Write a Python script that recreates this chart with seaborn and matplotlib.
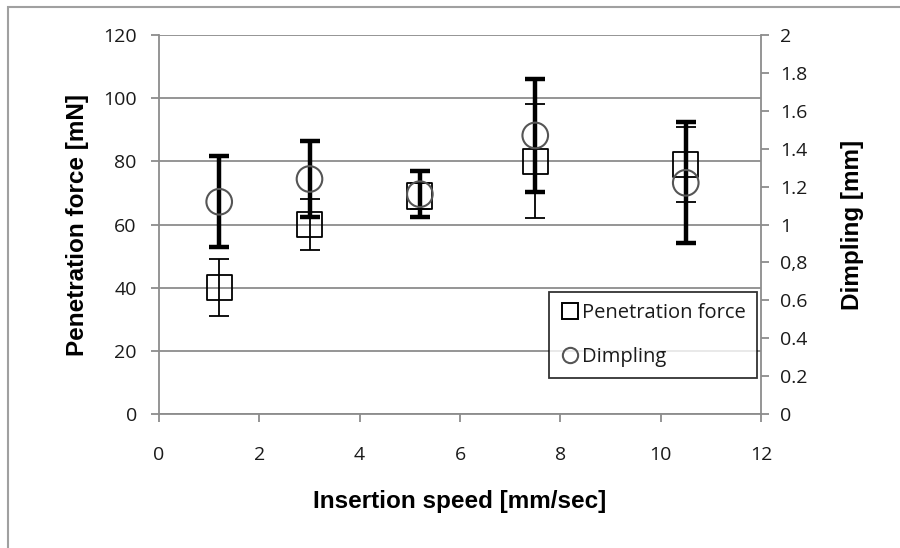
import matplotlib
matplotlib.use("Agg")
import matplotlib.pyplot as plt
from matplotlib.patches import Rectangle
from matplotlib.lines import Line2D
import seaborn as sns
import pandas as pd

# values
speed = [1.2, 3.0, 5.2, 7.5, 10.5]
force = [40, 60, 69, 80, 79]
force_err = [9, 8, 4, 18, 12]
dimpling = [1.12, 1.24, 1.16, 1.47, 1.22]
dimpling_err = [0.24, 0.20, 0.12, 0.30, 0.32]

x_ticks = [0, 2, 4, 6, 8, 10, 12]
force_ticks = [0, 20, 40, 60, 80, 100, 120]
dimp_ticks = [0, 0.2, 0.4, 0.6, 0.8, 1, 1.2, 1.4, 1.6, 1.8, 2]
dimp_labels = ["0", "0.2", "0.4", "0.6", "0,8", "1", "1.2", "1.4", "1.6", "1.8", "2"]

df = pd.DataFrame({"speed": speed, "force": force, "force_err": force_err,
                   "dimpling": dimpling, "dimpling_err": dimpling_err})

sns.set_style("white")
plt.rcParams["font.family"] = ["Open Sans", "DejaVu Sans"]

grey = "#8c8c8c"
txt = "#1a1a1a"
fig = plt.figure(figsize=(9, 5.48), dpi=100)
ax = fig.add_axes([159 / 900, 1 - 414 / 548, (761 - 159) / 900, (414 - 35) / 548])
ax2 = ax.twinx()

# penetration force: squares with thin error bars
ax.errorbar(df["speed"], df["force"], yerr=df["force_err"], fmt="none",
            ecolor="black", elinewidth=1.3, capsize=7, capthick=1.3, zorder=3)
sns.scatterplot(data=df, x="speed", y="force", marker="s", s=330,
                facecolor="none", edgecolor="black", linewidth=1.3, ax=ax, zorder=4)

# dimpling: circles with thick error bars
ax2.errorbar(df["speed"], df["dimpling"], yerr=df["dimpling_err"], fmt="none",
             ecolor="black", elinewidth=3.2, capsize=7, capthick=3.2, zorder=3)
sns.scatterplot(data=df, x="speed", y="dimpling", marker="o", s=340,
                facecolor="none", edgecolor="#555555", linewidth=1.5, ax=ax2, zorder=4)

ax.set_xlim(0, 12)
ax.set_ylim(0, 120)
ax2.set_ylim(0, 2)
ax.set_xticks(x_ticks)
ax.set_yticks(force_ticks)
ax2.set_yticks(dimp_ticks)
ax2.set_yticklabels(dimp_labels)

ax.grid(axis="y", color=grey, linewidth=1.3)
ax.set_axisbelow(True)
for a in (ax, ax2):
    for side in ("top", "left", "right", "bottom"):
        a.spines[side].set_visible(False)
ax.spines["left"].set_visible(True)
ax.spines["bottom"].set_visible(True)
ax2.spines["right"].set_visible(True)
for sp in (ax.spines["left"], ax.spines["bottom"], ax2.spines["right"]):
    sp.set_color(grey)
    sp.set_linewidth(1.3)

ax.tick_params(axis="y", direction="out", length=6, width=1.3, color=grey,
               left=True, labelsize=14, pad=10, labelcolor=txt)
ax.tick_params(axis="x", direction="out", length=6, width=1.3, color=grey,
               bottom=True, labelsize=14, pad=17, labelcolor=txt)
ax2.tick_params(axis="y", direction="out", length=6, width=1.3, color=grey,
                right=True, labelsize=14, pad=8, labelcolor=txt)

lab = dict(fontsize=17.5, fontweight="bold", family="Liberation Sans", color="black")
ax.set_xlabel("Insertion speed [mm/sec]", labelpad=19, **lab)
ax.set_ylabel("Penetration force [mN]", labelpad=10, **lab)
ax2.set_ylabel("Dimpling [mm]", labelpad=24, **lab)

handles = [
    Line2D([], [], marker="s", linestyle="none", markersize=11, markerfacecolor="none",
           markeredgecolor="black", markeredgewidth=1.4),
    Line2D([], [], marker="o", linestyle="none", markersize=11, markerfacecolor="none",
           markeredgecolor="#555555", markeredgewidth=1.5),
]
leg = ax2.legend(handles, ["Penetration force", "Dimpling"], loc="lower right",
                 bbox_to_anchor=(0.993, 0.095), frameon=True, fancybox=False,
                 edgecolor="black", handletextpad=0.1, handlelength=1.0,
                 labelspacing=1.2, borderpad=0.55, borderaxespad=0,
                 prop={"size": 14.5})
for t in leg.get_texts():
    t.set_color(txt)
leg.get_frame().set_linewidth(1.3)

# outer chart frame
fig.add_artist(Rectangle((8 / 900, -0.1), 1.2, 1 - 7 / 548 + 0.1, transform=fig.transFigure,
                         fill=False, edgecolor="#a0a0a0", linewidth=1.5))

fig.savefig("out.png", dpi=100)
